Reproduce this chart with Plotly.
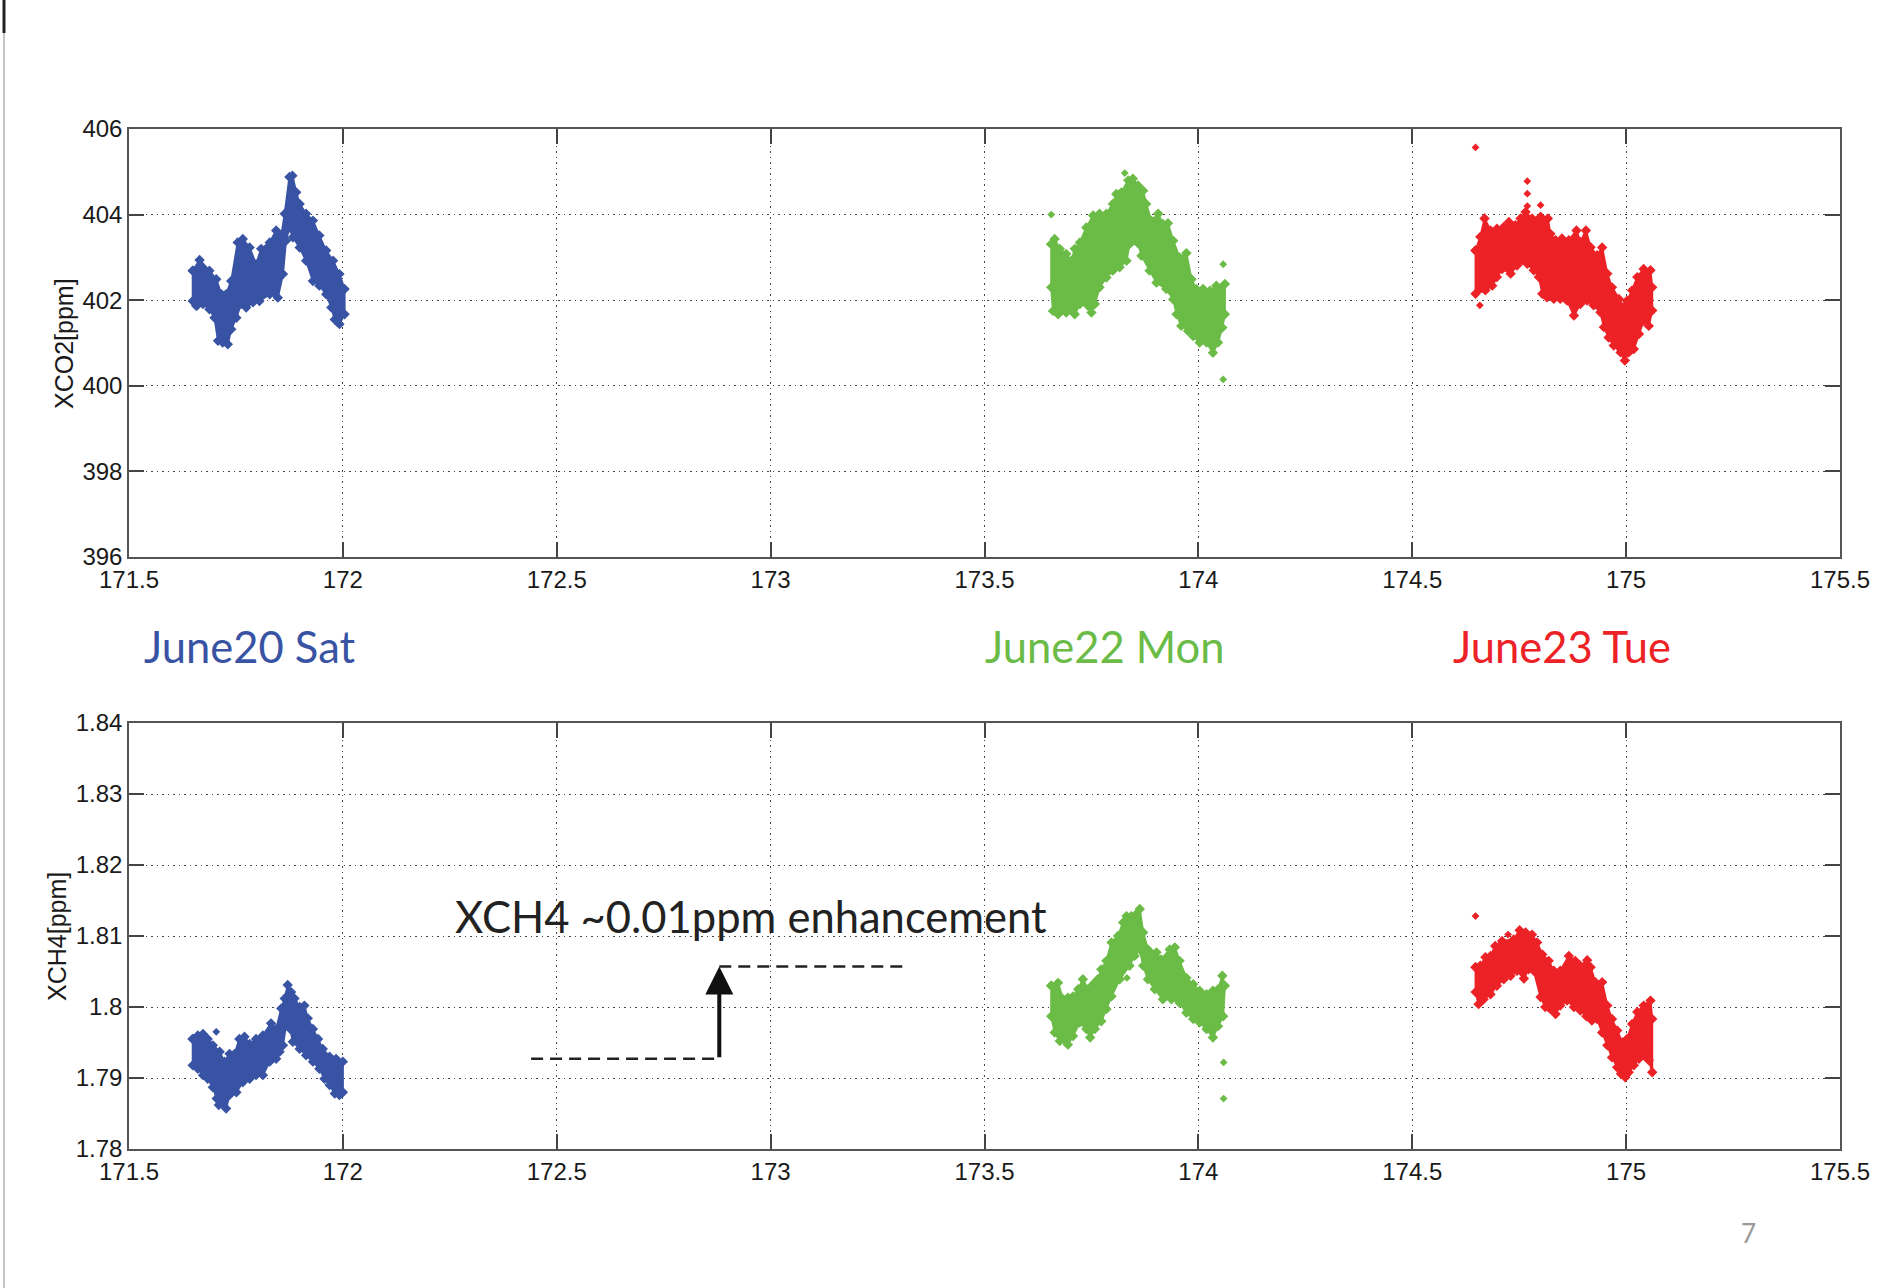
import plotly.graph_objects as go

W, H = 1894, 1288

# ---------------- data ----------------
x_range = [171.5, 175.5]
x_ticks = [171.5, 172, 172.5, 173, 173.5, 174, 174.5, 175, 175.5]
x_ticktext = ["171.5", "172", "172.5", "173", "173.5", "174", "174.5", "175", "175.5"]
co2_range = [396, 406]
co2_ticks = [396, 398, 400, 402, 404, 406]
co2_ticktext = ["396", "398", "400", "402", "404", "406"]
ch4_range = [1.78, 1.84]
ch4_ticks = [1.78, 1.79, 1.80, 1.81, 1.82, 1.83, 1.84]
ch4_ticktext = ["1.78", "1.79", "1.8", "1.81", "1.82", "1.83", "1.84"]

days = ["June20 Sat", "June22 Mon", "June23 Tue"]
day_colors = ["#3953A4", "#6BBB47", "#EC2227"]

# XCO2 cloud envelopes (upper / lower edge of the dense point cloud) + outliers
co2_sat_upper = [(171.649, 402.69), (171.665, 402.94), (171.688, 402.69), (171.704, 402.49), (171.716, 402.14),
                 (171.727, 402.14), (171.739, 402.45), (171.754, 403.35), (171.766, 403.43), (171.782, 403.23),
                 (171.797, 402.84), (171.809, 403.20), (171.829, 403.35), (171.844, 403.63), (171.856, 403.51),
                 (171.864, 404.02), (171.875, 404.88), (171.882, 404.91), (171.891, 404.52), (171.899, 404.25),
                 (171.914, 404.02), (171.930, 403.86), (171.945, 403.51), (171.961, 403.16), (171.977, 402.92),
                 (171.992, 402.61), (172.004, 402.26)]
co2_sat_lower = [(171.649, 401.98), (171.657, 401.87), (171.673, 401.91), (171.688, 401.79), (171.700, 401.59),
                 (171.708, 401.05), (171.719, 401.01), (171.731, 400.97), (171.739, 401.32), (171.751, 401.59),
                 (171.762, 401.91), (171.774, 401.83), (171.790, 401.95), (171.805, 401.98), (171.829, 402.14),
                 (171.848, 402.06), (171.860, 402.61), (171.867, 403.39), (171.875, 403.70), (171.883, 403.47),
                 (171.899, 403.23), (171.914, 402.92), (171.930, 402.45), (171.945, 402.34), (171.961, 402.14),
                 (171.973, 401.83), (171.981, 401.55), (171.992, 401.44), (172.004, 401.67)]
co2_sat_out = [(171.719, 401.30), (171.660, 401.85)]

co2_mon_upper = [(173.656, 403.31), (173.664, 403.43), (173.676, 403.20), (173.691, 403.08), (173.703, 402.92),
                 (173.711, 403.20), (173.723, 403.35), (173.738, 403.70), (173.754, 403.98), (173.769, 404.02),
                 (173.785, 404.02), (173.800, 404.25), (173.808, 404.48), (173.820, 404.52), (173.836, 404.80),
                 (173.847, 404.84), (173.859, 404.68), (173.871, 404.56), (173.878, 404.25), (173.890, 403.86),
                 (173.906, 404.02), (173.917, 403.78), (173.929, 403.80), (173.941, 403.39), (173.956, 403.00),
                 (173.972, 403.10), (173.984, 402.49), (173.995, 402.26), (174.011, 402.26), (174.027, 402.22),
                 (174.042, 402.34), (174.062, 402.38)]
co2_mon_lower = [(173.656, 402.30), (173.660, 401.75), (173.672, 401.67), (173.691, 401.71), (173.711, 401.67),
                 (173.723, 401.91), (173.742, 401.87), (173.750, 401.71), (173.758, 401.91), (173.769, 402.30),
                 (173.785, 402.53), (173.800, 402.69), (173.816, 402.77), (173.832, 402.92), (173.839, 403.31),
                 (173.847, 403.39), (173.859, 403.33), (173.867, 403.04), (173.886, 402.69), (173.902, 402.41),
                 (173.925, 402.26), (173.941, 402.02), (173.949, 401.67), (173.960, 401.40), (173.976, 401.28),
                 (173.988, 401.16), (174.003, 401.01), (174.019, 401.01), (174.034, 400.77), (174.046, 401.01),
                 (174.056, 401.36), (174.062, 401.67)]
co2_mon_out = [(173.656, 404.00), (173.828, 404.97), (174.058, 402.84), (174.058, 400.15)]

co2_tue_upper = [(174.648, 403.16), (174.659, 403.48), (174.669, 403.91), (174.683, 403.63), (174.698, 403.67),
                 (174.714, 403.71), (174.726, 403.83), (174.741, 403.75), (174.753, 403.91), (174.765, 404.06),
                 (174.780, 403.91), (174.800, 403.95), (174.817, 403.91), (174.823, 403.55), (174.835, 403.40),
                 (174.850, 403.44), (174.866, 403.40), (174.884, 403.63), (174.893, 403.36), (174.906, 403.63),
                 (174.917, 403.24), (174.932, 403.05), (174.944, 403.23), (174.956, 402.62), (174.967, 402.30),
                 (174.983, 402.03), (174.995, 401.84), (175.002, 401.99), (175.014, 402.23), (175.026, 402.54),
                 (175.041, 402.73), (175.057, 402.70), (175.061, 402.30)]
co2_tue_lower = [(174.648, 402.15), (174.671, 402.23), (174.687, 402.34), (174.698, 402.54), (174.710, 402.73),
                 (174.730, 402.62), (174.745, 402.81), (174.757, 402.93), (174.769, 402.85), (174.784, 402.70),
                 (174.796, 402.54), (174.804, 402.15), (174.815, 402.07), (174.831, 402.03), (174.846, 402.03),
                 (174.862, 401.99), (174.878, 401.64), (174.893, 401.91), (174.909, 401.99), (174.924, 401.88),
                 (174.940, 401.72), (174.948, 401.37), (174.959, 401.13), (174.971, 400.94), (174.987, 400.78),
                 (174.997, 400.59), (175.006, 400.78), (175.018, 400.86), (175.030, 401.21), (175.041, 401.52),
                 (175.053, 401.40), (175.061, 401.76)]
co2_tue_out = [(174.648, 405.57), (174.769, 404.78), (174.769, 404.49), (174.769, 404.20), (174.800, 404.22),
               (174.658, 401.88)]

# XCH4 cloud envelopes + outliers
ch4_sat_upper = [(171.649, 1.7955), (171.661, 1.7960), (171.673, 1.7962), (171.684, 1.7955), (171.696, 1.7946),
                 (171.712, 1.7937), (171.723, 1.7923), (171.735, 1.7934), (171.747, 1.7934), (171.758, 1.7955),
                 (171.770, 1.7958), (171.782, 1.7948), (171.797, 1.7955), (171.813, 1.7960), (171.832, 1.7977),
                 (171.844, 1.7969), (171.856, 1.7998), (171.864, 1.8012), (171.871, 1.8031), (171.879, 1.8021),
                 (171.887, 1.8012), (171.899, 1.8000), (171.910, 1.8002), (171.918, 1.7984), (171.930, 1.7969),
                 (171.942, 1.7955), (171.953, 1.7941), (171.969, 1.7930), (171.984, 1.7927), (172.000, 1.7923)]
ch4_sat_lower = [(171.649, 1.7918), (171.661, 1.7913), (171.673, 1.7904), (171.684, 1.7899), (171.696, 1.7887),
                 (171.705, 1.7871), (171.710, 1.7862), (171.719, 1.7864), (171.727, 1.7857), (171.735, 1.7876),
                 (171.751, 1.7880), (171.766, 1.7894), (171.782, 1.7899), (171.797, 1.7904), (171.813, 1.7904),
                 (171.829, 1.7923), (171.844, 1.7927), (171.852, 1.7937), (171.860, 1.7946), (171.867, 1.7974),
                 (171.877, 1.7969), (171.883, 1.7951), (171.899, 1.7941), (171.914, 1.7932), (171.930, 1.7923),
                 (171.945, 1.7913), (171.957, 1.7899), (171.969, 1.7890), (171.981, 1.7878), (171.992, 1.7876),
                 (172.000, 1.7880)]
ch4_sat_out = [(171.704, 1.7965)]

ch4_mon_upper = [(173.656, 1.8030), (173.672, 1.8034), (173.684, 1.8011), (173.695, 1.8013), (173.707, 1.8015),
                 (173.719, 1.8025), (173.730, 1.8039), (173.742, 1.8025), (173.754, 1.8032), (173.765, 1.8039),
                 (173.773, 1.8053), (173.785, 1.8065), (173.797, 1.8091), (173.812, 1.8100), (173.824, 1.8119),
                 (173.832, 1.8128), (173.843, 1.8128), (173.855, 1.8131), (173.863, 1.8138), (173.871, 1.8105),
                 (173.882, 1.8081), (173.902, 1.8077), (173.913, 1.8067), (173.933, 1.8081), (173.945, 1.8084),
                 (173.956, 1.8065), (173.972, 1.8041), (173.988, 1.8032), (174.003, 1.8023), (174.019, 1.8018),
                 (174.034, 1.8023), (174.046, 1.8025), (174.056, 1.8044), (174.062, 1.8030)]
ch4_mon_lower = [(173.656, 1.7987), (173.664, 1.7964), (173.676, 1.7952), (173.695, 1.7947), (173.707, 1.7959),
                 (173.723, 1.7978), (173.738, 1.7969), (173.747, 1.7957), (173.758, 1.7969), (173.773, 1.7980),
                 (173.785, 1.7997), (173.797, 1.8015), (173.816, 1.8039), (173.839, 1.8058), (173.851, 1.8072),
                 (173.863, 1.8081), (173.871, 1.8058), (173.882, 1.8039), (173.898, 1.8025), (173.917, 1.8011),
                 (173.937, 1.8011), (173.956, 1.8006), (173.972, 1.7992), (173.988, 1.7983), (174.003, 1.7978),
                 (174.019, 1.7969), (174.034, 1.7957), (174.046, 1.7973), (174.058, 1.7987)]
ch4_mon_out = [(173.833, 1.8041), (174.059, 1.7922), (174.059, 1.7871)]

ch4_tue_upper = [(174.648, 1.8056), (174.659, 1.8058), (174.671, 1.8070), (174.683, 1.8072), (174.694, 1.8086),
                 (174.710, 1.8093), (174.737, 1.8095), (174.751, 1.8108), (174.765, 1.8105), (174.780, 1.8102),
                 (174.792, 1.8091), (174.804, 1.8074), (174.819, 1.8065), (174.831, 1.8051), (174.846, 1.8051),
                 (174.866, 1.8072), (174.881, 1.8065), (174.893, 1.8058), (174.909, 1.8066), (174.917, 1.8056),
                 (174.928, 1.8035), (174.944, 1.8035), (174.956, 1.8002), (174.967, 1.7983), (174.979, 1.7967),
                 (174.991, 1.7950), (175.002, 1.7955), (175.014, 1.7976), (175.026, 1.7993), (175.041, 1.8002),
                 (175.057, 1.8009), (175.061, 1.7983)]
ch4_tue_lower = [(174.648, 1.8021), (174.655, 1.8004), (174.667, 1.8011), (174.683, 1.8018), (174.698, 1.8030),
                 (174.714, 1.8039), (174.730, 1.8044), (174.745, 1.8051), (174.761, 1.8040), (174.772, 1.8053),
                 (174.784, 1.8051), (174.800, 1.8014), (174.811, 1.8000), (174.823, 1.7997), (174.835, 1.7990),
                 (174.846, 1.8002), (174.862, 1.8009), (174.878, 1.8000), (174.893, 1.7995), (174.907, 1.7987),
                 (174.920, 1.7981), (174.932, 1.7983), (174.944, 1.7964), (174.956, 1.7946), (174.967, 1.7929),
                 (174.979, 1.7915), (174.988, 1.7906), (174.998, 1.7901), (175.006, 1.7908), (175.018, 1.7918),
                 (175.030, 1.7927), (175.041, 1.7932), (175.053, 1.7925), (175.061, 1.7908)]
ch4_tue_out = [(174.648, 1.8128), (174.724, 1.8102)]

# annotation geometry for "~0.01ppm enhancement" (data coordinates of lower panel)
enh_low_x = [172.44, 172.88]
enh_low_y = 1.7927
enh_high_x = [172.88, 173.32]
enh_high_y = 1.8057

# ---------------- figure ----------------
AX_L, AX_R = 129 / W, 1840 / W
TOP_DOM = [1 - 557 / H, 1 - 129 / H]
BOT_DOM = [1 - 1149 / H, 1 - 723 / H]

fig = go.Figure()


def add_cloud(upper, lower, outliers, color, xa, ya):
    poly = upper + lower[::-1] + [upper[0]]
    fig.add_trace(go.Scatter(
        x=[p[0] for p in poly], y=[p[1] for p in poly], xaxis=xa, yaxis=ya,
        mode="lines+markers", fill="toself", fillcolor=color,
        line=dict(color=color, width=2),
        marker=dict(symbol="diamond", size=8, color=color),
        showlegend=False, hoverinfo="skip"))
    if outliers:
        fig.add_trace(go.Scatter(
            x=[p[0] for p in outliers], y=[p[1] for p in outliers], xaxis=xa, yaxis=ya,
            mode="markers", marker=dict(symbol="diamond", size=6, color=color),
            showlegend=False, hoverinfo="skip"))


add_cloud(co2_sat_upper, co2_sat_lower, co2_sat_out, day_colors[0], "x", "y")
add_cloud(co2_mon_upper, co2_mon_lower, co2_mon_out, day_colors[1], "x", "y")
add_cloud(co2_tue_upper, co2_tue_lower, co2_tue_out, day_colors[2], "x", "y")
add_cloud(ch4_sat_upper, ch4_sat_lower, ch4_sat_out, day_colors[0], "x2", "y2")
add_cloud(ch4_mon_upper, ch4_mon_lower, ch4_mon_out, day_colors[1], "x2", "y2")
add_cloud(ch4_tue_upper, ch4_tue_lower, ch4_tue_out, day_colors[2], "x2", "y2")

tick_font = dict(family="Liberation Sans, Arial, sans-serif", size=24, color="#1a1a1a")
axis_common = dict(showline=True, linecolor="#555555", linewidth=1.5, mirror="ticks",
                   ticks="inside", ticklen=15, tickwidth=1.5, tickcolor="#444444",
                   showgrid=True, gridcolor="#444444", gridwidth=1, griddash="1.5px,4px",
                   zeroline=False, tickfont=tick_font, fixedrange=True, automargin=False)

fig.update_layout(
    template="none",
    width=W, height=H, margin=dict(l=0, r=0, t=0, b=0, pad=0, autoexpand=False),
    paper_bgcolor="white", plot_bgcolor="white", showlegend=False,
    xaxis=dict(domain=[AX_L, AX_R], range=x_range, tickvals=x_ticks, ticktext=x_ticktext,
               anchor="y", **axis_common),
    yaxis=dict(domain=TOP_DOM, range=co2_range, tickvals=co2_ticks, ticktext=co2_ticktext,
               anchor="x", **axis_common),
    xaxis2=dict(domain=[AX_L, AX_R], range=x_range, tickvals=x_ticks, ticktext=x_ticktext,
                anchor="y2", **axis_common),
    yaxis2=dict(domain=BOT_DOM, range=ch4_range, tickvals=ch4_ticks, ticktext=ch4_ticktext,
                anchor="x2", **axis_common),
)

# axis titles
title_font = dict(family="Liberation Sans, Arial, sans-serif", size=25, color="#1a1a1a")
fig.add_annotation(text="XCO2[ppm]", xref="paper", yref="paper", x=64 / W, y=1 - 343 / H,
                   textangle=-90, showarrow=False, font=title_font, xanchor="center", yanchor="middle")
fig.add_annotation(text="XCH4[ppm]", xref="paper", yref="paper", x=57 / W, y=1 - 937 / H,
                   textangle=-90, showarrow=False, font=title_font, xanchor="center", yanchor="middle")

# day labels
label_font_family = "Lato, Open Sans, sans-serif"
day_label_x = [250, 1105, 1562]
for name, col, px in zip(days, day_colors, day_label_x):
    fig.add_annotation(text=name, xref="paper", yref="paper", x=px / W, y=1 - 646 / H,
                       showarrow=False, xanchor="center", yanchor="middle",
                       font=dict(family=label_font_family, size=43.5, color=col))

# enhancement annotation
fig.add_annotation(text="XCH4 ~0.01ppm enhancement", xref="paper", yref="paper", x=751 / W, y=1 - 916 / H,
                   showarrow=False, xanchor="center", yanchor="middle",
                   font=dict(family=label_font_family, size=43.5, color="#222222"))
fig.add_shape(type="line", xref="x2", yref="y2", x0=enh_low_x[0], x1=enh_low_x[1], y0=enh_low_y, y1=enh_low_y,
              line=dict(color="#222222", width=2.5, dash="12px,7px"))
fig.add_shape(type="line", xref="x2", yref="y2", x0=enh_high_x[0], x1=enh_high_x[1], y0=enh_high_y, y1=enh_high_y,
              line=dict(color="#222222", width=2.5, dash="12px,7px"))
fig.add_annotation(x=enh_high_x[0], y=enh_high_y, ax=enh_low_x[1], ay=enh_low_y,
                   xref="x2", yref="y2", axref="x2", ayref="y2", text="", showarrow=True,
                   arrowhead=2, arrowsize=1.4, arrowwidth=4, arrowcolor="#111111", standoff=0)

# page number
fig.add_annotation(text="7", xref="paper", yref="paper", x=1748 / W, y=1 - 1233 / H, showarrow=False,
                   xanchor="center", yanchor="middle",
                   font=dict(family=label_font_family, size=26, color="#9a9a9a"))

# slide left border
fig.add_shape(type="line", xref="paper", yref="paper", x0=4 / W, x1=4 / W, y0=0, y1=1,
              line=dict(color="#888888", width=1))
fig.add_shape(type="line", xref="paper", yref="paper", x0=4 / W, x1=4 / W, y0=1 - 33 / H, y1=1,
              line=dict(color="#222222", width=3))

fig.write_html("out.html", config={"displayModeBar": False},
               post_script="document.body.style.margin='0';")
